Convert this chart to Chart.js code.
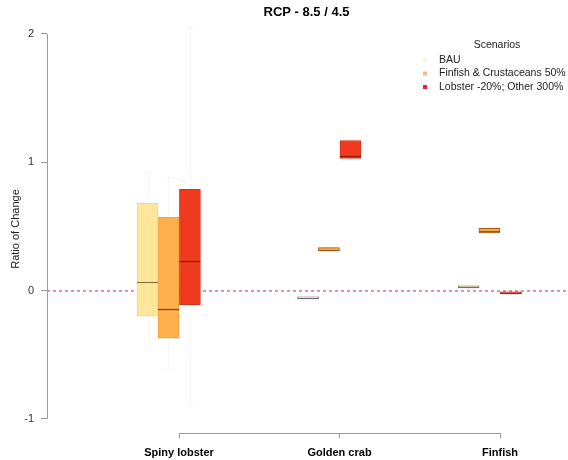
<!DOCTYPE html>
<html>
<head>
<meta charset="utf-8">
<script src="https://cdn.jsdelivr.net/npm/chart.js@4/dist/chart.umd.min.js"></script>
<style>
  html, body { margin: 0; padding: 0; background: #fff; }
  #wrap { width: 568px; height: 460px; }
</style>
</head>
<body>
<div id="wrap"><canvas id="c" width="568" height="460"></canvas></div>
<script>
// Fisheries, ratio of change under RCP 8.5 vs 4.5, per management scenario
const chartTitle = 'RCP - 8.5 / 4.5';
const axisTitle = 'Ratio of Change';
const legendTitle = 'Scenarios';
const categories = ['Spiny lobster', 'Golden crab', 'Finfish'];
const scenarios = ['BAU', 'Finfish & Crustaceans 50%', 'Lobster -20%; Other 300%'];
const yTicks = [-1, 0, 1, 2];

// Box statistics per scenario, one value per category
const bauLow    = [-0.45, -0.065, 0.018];
const bauQ1     = [-0.20, -0.062, 0.022];
const bauMedian = [0.07, -0.055, 0.030];
const bauQ3     = [0.68, -0.048, 0.038];
const bauHigh   = [0.92, -0.045, 0.042];

const fcLow     = [-0.62, 0.305, 0.445];
const fcQ1      = [-0.37, 0.310, 0.450];
const fcMedian  = [-0.14, 0.320, 0.465];
const fcQ3      = [0.57, 0.335, 0.485];
const fcHigh    = [0.88, 0.340, 0.490];

const lobLow    = [-0.90, 1.02, -0.030];
const lobQ1     = [-0.11, 1.03, -0.025];
const lobMedian = [0.23, 1.05, -0.018];
const lobQ3     = [0.79, 1.17, -0.010];
const lobHigh   = [2.05, 1.18, -0.005];

const FONT = '"Liberation Sans", Arial, Helvetica, sans-serif';
const BAR_W = 21;

const series = [
  { label: scenarios[0], low: bauLow, q1: bauQ1, med: bauMedian, q3: bauQ3, high: bauHigh,
    shift: -0.196, fill: '#fee79a', edge: '#f2d57e', medColor: '#8a7540', thin: '#6f6f6f', key: '#fff6dc' },
  { label: scenarios[1], low: fcLow, q1: fcQ1, med: fcMedian, q3: fcQ3, high: fcHigh,
    shift: -0.066, fill: '#fdb04c', edge: '#f1a040', medColor: '#7a4010', thin: '#9a5a18', key: '#f3bd86' },
  { label: scenarios[2], low: lobLow, q1: lobQ1, med: lobMedian, q3: lobQ3, high: lobHigh,
    shift: 0.068, fill: '#ef3a1f', edge: '#d8301a', medColor: '#8a1a0a', thin: '#a01c3a', key: '#e8203c' }
];

const datasets = series.map(s => ({
  label: s.label,
  data: categories.map((c, i) => ({ x: i + s.shift, y: [s.q1[i], s.q3[i]] })),
  backgroundColor: s.fill,
  borderColor: categories.map((c, i) => (s.q3[i] - s.q1[i] < 0.05 ? s.thin : s.edge)),
  borderWidth: 1,
  borderSkipped: false,
  barThickness: BAR_W,
  grouped: false
}));

// Zero reference line and whiskers under the boxes
const underlay = {
  id: 'underlay',
  beforeDatasetsDraw(chart) {
    const { ctx, chartArea, scales: { x, y } } = chart;
    ctx.save();
    ctx.strokeStyle = '#f48ca0';
    ctx.lineWidth = 2;
    ctx.setLineDash([3, 3]);
    const y0 = Math.round(y.getPixelForValue(0));
    ctx.beginPath();
    ctx.moveTo(chartArea.left, y0);
    ctx.lineTo(chartArea.right, y0);
    ctx.stroke();
    ctx.setLineDash([]);
    ctx.lineWidth = 1;
    ctx.strokeStyle = 'rgba(170,170,170,0.09)';
    series.forEach(s => {
      categories.forEach((c, i) => {
        const cx = Math.round(x.getPixelForValue(i + s.shift)) + 0.5;
        const top = y.getPixelForValue(s.high[i]);
        const bot = y.getPixelForValue(s.low[i]);
        ctx.beginPath();
        ctx.moveTo(cx, top); ctx.lineTo(cx, y.getPixelForValue(s.q3[i]));
        ctx.moveTo(cx, bot); ctx.lineTo(cx, y.getPixelForValue(s.q1[i]));
        ctx.moveTo(cx - 5, top); ctx.lineTo(cx + 5, top);
        ctx.moveTo(cx - 5, bot); ctx.lineTo(cx + 5, bot);
        ctx.stroke();
      });
    });
    ctx.restore();
  }
};

// Medians, axis lines, title and legend
const overlay = {
  id: 'overlay',
  afterDatasetsDraw(chart) {
    const { ctx, scales: { x, y } } = chart;
    ctx.save();
    ctx.lineWidth = 1.2;
    series.forEach(s => {
      categories.forEach((c, i) => {
        const cx = x.getPixelForValue(i + s.shift);
        const my = Math.round(y.getPixelForValue(s.med[i])) + 0.5;
        ctx.strokeStyle = (s.q3[i] - s.q1[i] < 0.05) ? s.thin : s.medColor;
        ctx.beginPath();
        ctx.moveTo(cx - BAR_W / 2, my);
        ctx.lineTo(cx + BAR_W / 2, my);
        ctx.stroke();
      });
    });
    ctx.restore();
  },
  afterDraw(chart) {
    const { ctx, chartArea, scales: { x, y } } = chart;
    ctx.save();
    ctx.strokeStyle = '#999';
    ctx.lineWidth = 1;
    // y axis line spans the labelled range only
    const ax = chartArea.left + 0.5;
    ctx.beginPath();
    ctx.moveTo(ax, y.getPixelForValue(yTicks[yTicks.length - 1]));
    ctx.lineTo(ax, y.getPixelForValue(yTicks[0]));
    ctx.stroke();
    // x axis line between first and last category
    const bx = chartArea.bottom + 0.5;
    ctx.beginPath();
    ctx.moveTo(x.getPixelForValue(0), bx);
    ctx.lineTo(x.getPixelForValue(categories.length - 1), bx);
    ctx.stroke();

    // title, centred over the plotting region
    ctx.fillStyle = '#000';
    ctx.font = 'bold 13px ' + FONT;
    ctx.textAlign = 'center';
    ctx.textBaseline = 'middle';
    ctx.fillText(chartTitle, (chartArea.left + chartArea.right) / 2, 12);

    // legend
    const r = chartArea.right;
    ctx.font = '10.5px ' + FONT;
    ctx.fillStyle = '#222';
    ctx.fillText(legendTitle, r - 69, 45);
    ctx.textAlign = 'left';
    series.forEach((s, k) => {
      const ly = 60 + k * 13.5;
      ctx.fillStyle = s.key;
      ctx.fillRect(r - 143, ly - 2, 4, 4);
      ctx.fillStyle = '#222';
      ctx.fillText(s.label, r - 127, ly);
    });
    ctx.restore();
  }
};

new Chart(document.getElementById('c'), {
  type: 'bar',
  data: { datasets },
  plugins: [underlay, overlay],
  options: {
    responsive: false,
    animation: false,
    devicePixelRatio: 1,
    layout: { padding: { top: 25, right: 2, left: 0, bottom: 0 } },
    plugins: {
      legend: { display: false },
      title: { display: false },
      tooltip: { enabled: false }
    },
    scales: {
      x: {
        type: 'linear',
        min: -0.8224,
        max: 2.411,
        offset: false,
        afterBuildTicks(s) { s.ticks = categories.map((c, i) => ({ value: i })); },
        afterFit(s) { s.height = 27; },
        ticks: {
          autoSkip: false,
          maxRotation: 0,
          padding: 8,
          color: '#000',
          font: { family: FONT, size: 11, weight: 'bold' },
          callback: v => categories[v]
        },
        grid: { offset: false, drawOnChartArea: false, drawTicks: true, tickLength: 5, color: '#999' },
        border: { display: false }
      },
      y: {
        type: 'linear',
        min: -1.11,
        max: 2.07,
        afterBuildTicks(s) { s.ticks = yTicks.map(v => ({ value: v })); },
        afterFit(s) { s.width = 47; },
        ticks: {
          padding: 7,
          color: '#333',
          font: { family: FONT, size: 11 },
          callback: v => String(v)
        },
        grid: { drawOnChartArea: false, drawTicks: true, tickLength: 6, color: '#999' },
        border: { display: false },
        title: {
          display: true,
          text: axisTitle,
          color: '#222',
          font: { family: FONT, size: 11 },
          padding: { top: 9, bottom: 0 }
        }
      }
    }
  }
});
</script>
</body>
</html>
